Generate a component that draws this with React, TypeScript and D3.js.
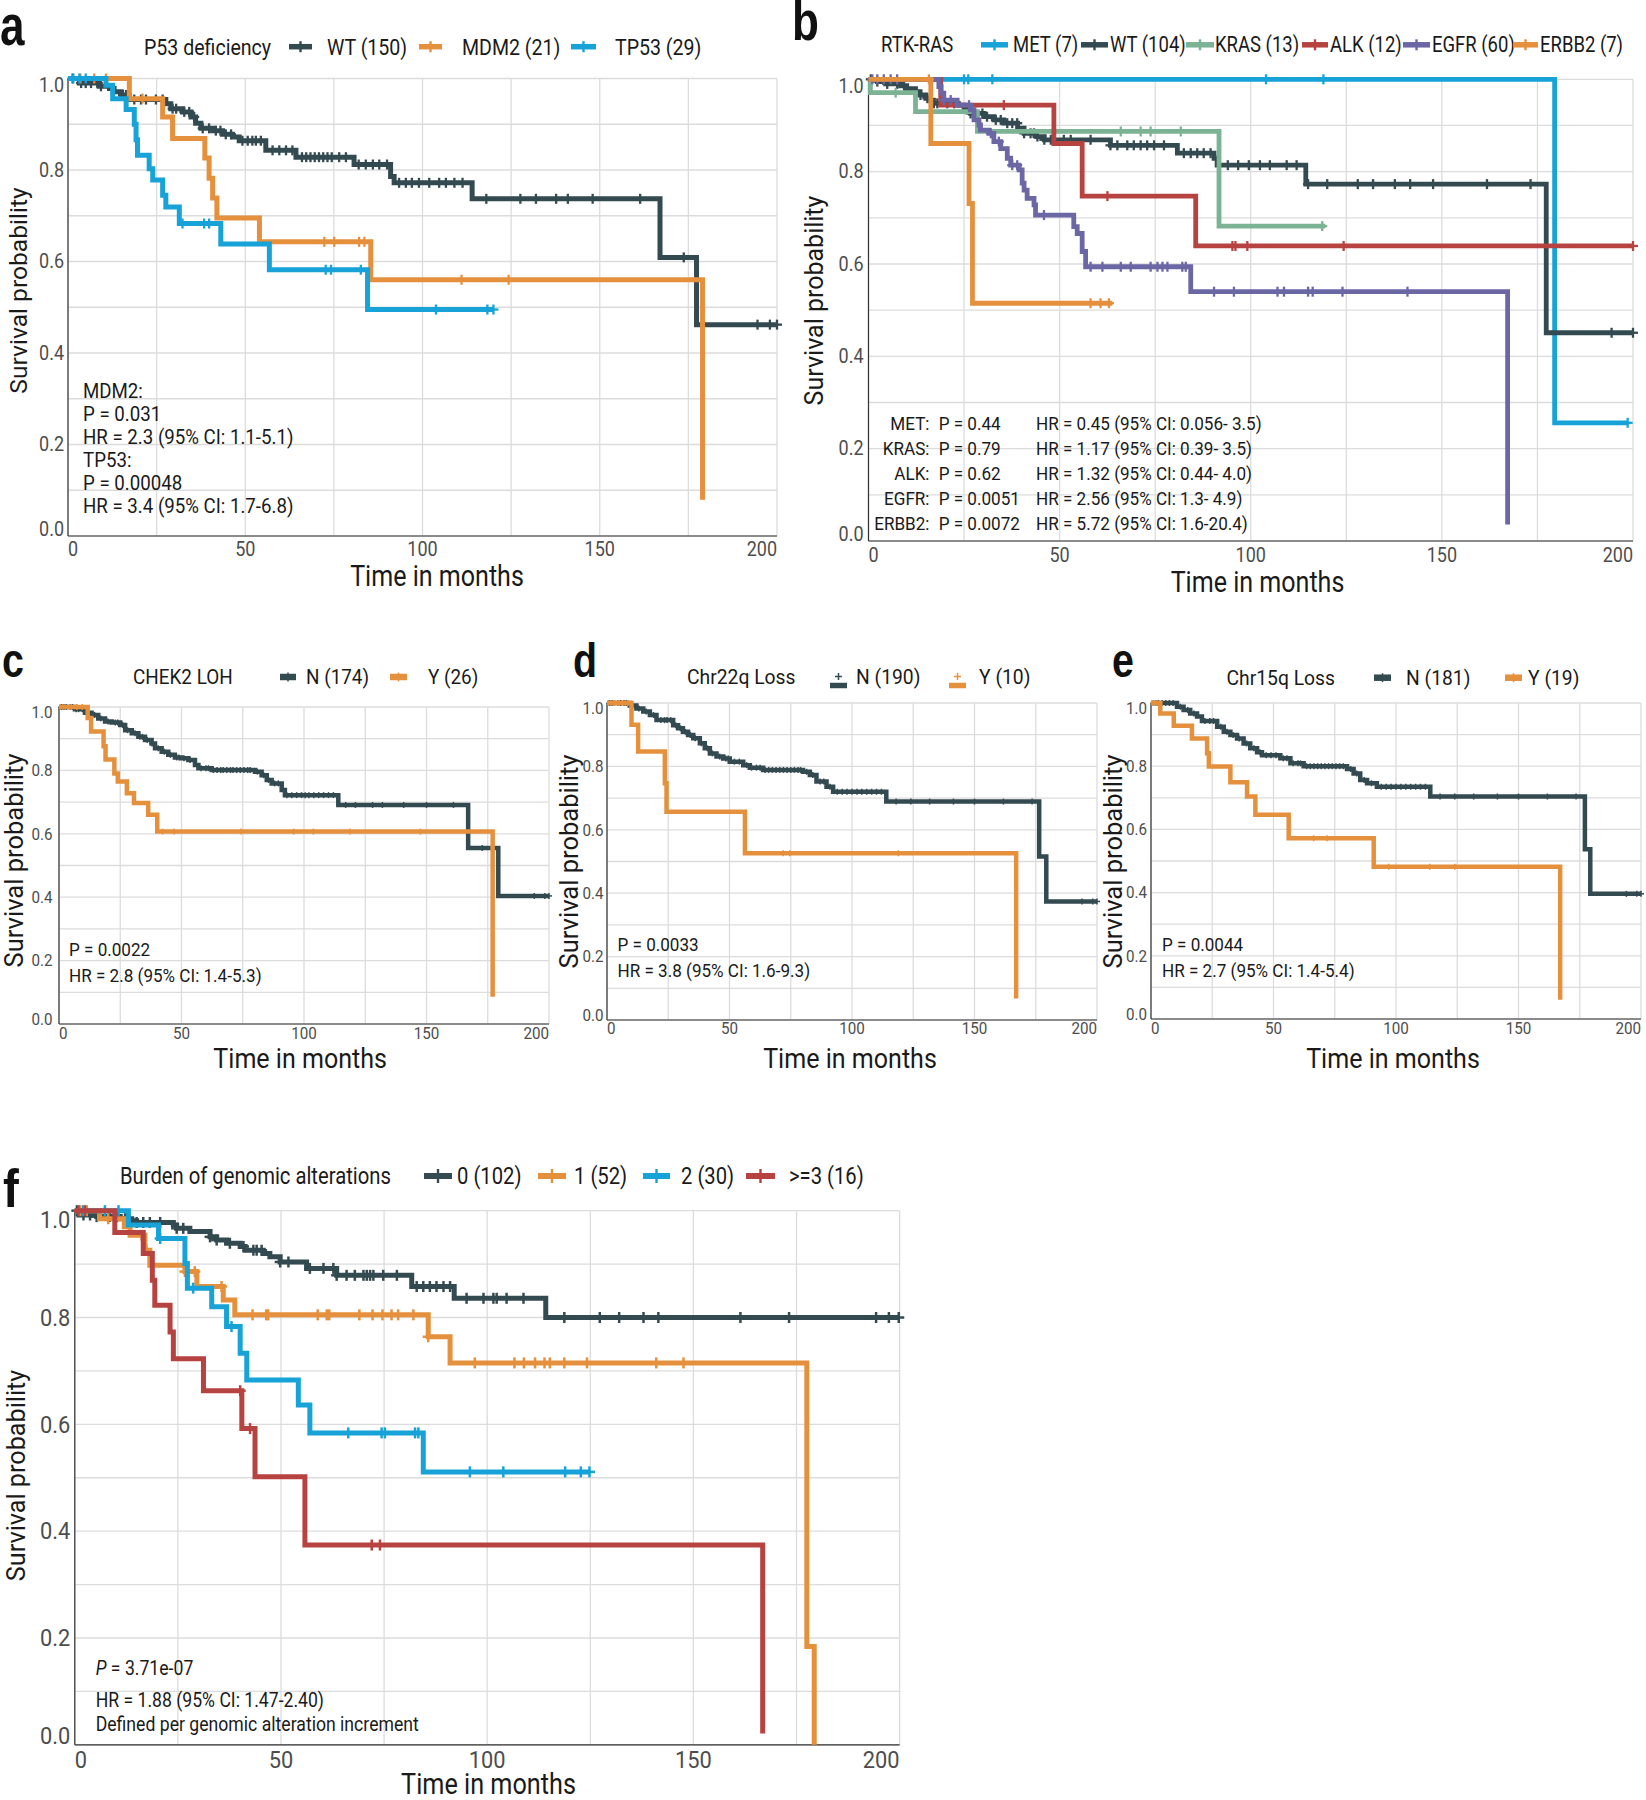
import React from "react";
import * as d3 from "d3";

type Step = [number, number];

// ---------- colours ----------
const DARK = "#344a51";
const ORANGE = "#e5903d";
const BLUE = "#17a2d8";
const GREEN = "#7bb394";
const RED = "#b74341";
const PURPLE = "#6b67a5";

const X_TICKS = [0, 50, 100, 150, 200];
const Y_TICKS = [0, 0.2, 0.4, 0.6, 0.8, 1.0];
const X_GRID = [0, 25, 50, 75, 100, 125, 150, 175, 200];
const Y_GRID = [0, 0.1, 0.2, 0.3, 0.4, 0.5, 0.6, 0.7, 0.8, 0.9, 1.0];

// ---------- panel a : P53 deficiency ----------
const A_WT_STEPS: Step[] = [[0, 1], [3.2, 0.99], [8.8, 0.983], [11.7, 0.978], [13, 0.971], [15, 0.964], [17.3, 0.954], [27.6, 0.945], [29, 0.934], [32.3, 0.927], [34.7, 0.916], [36, 0.902], [37.5, 0.891], [40.8, 0.886], [43.6, 0.878], [46.4, 0.872], [48.3, 0.864], [55.8, 0.843], [64.3, 0.828], [80.7, 0.812], [91, 0.786], [92, 0.772], [114, 0.737], [167, 0.609], [177.3, 0.462]];
const A_WT_END = 200;
const A_WT_CENSOR = [1.3, 3.7, 5, 6.5, 8.4, 9.3, 15.5, 16.4, 18.7, 20.6, 22, 24.8, 26.7, 29.5, 30.5, 32.8, 34.2, 35.6, 38, 39.8, 41.7, 43, 44.5, 46, 49.2, 50.7, 52, 53, 54.4, 57.7, 59.6, 61.5, 63.3, 66, 67.2, 68.4, 69.6, 70.8, 72, 73.2, 74.4, 76.5, 78.4, 82, 84, 86, 87.8, 90, 93.4, 95.3, 97, 99, 101.9, 104.7, 106.6, 109, 111.3, 118, 127.6, 132, 137.7, 141, 148, 161.4, 173.7, 194.5, 198, 200];
const A_MDM2_STEPS: Step[] = [[0, 1], [17.3, 0.956], [26.7, 0.916], [29.5, 0.869], [38.6, 0.826], [39.8, 0.782], [40.8, 0.739], [42, 0.695], [54, 0.643], [85.4, 0.56], [179, 0.079]];
const A_MDM2_END = 179;
const A_MDM2_CENSOR = [3.5, 7.4, 10.7, 21, 72.3, 75.1, 82.1, 83.6, 111, 124.3];
const A_TP53_STEPS: Step[] = [[0, 1], [10.7, 0.985], [12.6, 0.956], [16.4, 0.932], [18.7, 0.9], [19.2, 0.866], [19.6, 0.832], [22.9, 0.803], [23.9, 0.778], [26.7, 0.745], [27.6, 0.719], [31.4, 0.683], [43.1, 0.638], [56.8, 0.582], [84.5, 0.495]];
const A_TP53_END = 120;
const A_TP53_CENSOR = [1.5, 3.2, 5, 32.3, 38.4, 39.8, 72.7, 74.2, 82.6, 103.8, 118.3, 120];
const A_LEGEND = ["WT (150)", "MDM2 (21)", "TP53 (29)"];
const A_NOTES = ["MDM2:", "P = 0.031", "HR = 2.3 (95% CI: 1.1-5.1)", "TP53:", "P = 0.00048", "HR = 3.4 (95% CI: 1.7-6.8)"];

// ---------- panel b : RTK-RAS ----------
const B_MET_STEPS: Step[] = [[0, 1], [179.5, 0.256]];
const B_MET_END = 198.6;
const B_MET_CENSOR = [25, 26.1, 32.4, 104, 119, 198.6];
const B_WT_STEPS: Step[] = [[0, 1], [2.3, 0.995], [4.5, 0.99], [8.4, 0.986], [10, 0.98], [12.3, 0.973], [13.5, 0.966], [15, 0.959], [16, 0.955], [17, 0.948], [23.5, 0.944], [25, 0.935], [26.7, 0.926], [30.2, 0.919], [32.8, 0.912], [35.4, 0.905], [39, 0.894], [40.7, 0.883], [44, 0.876], [46, 0.869], [63.3, 0.857], [80.8, 0.84], [90.4, 0.829], [91.2, 0.814], [114.4, 0.773], [177.3, 0.451]];
const B_WT_END = 200;
const B_WT_CENSOR = [0.6, 2.3, 4.9, 7.5, 9.3, 13.6, 15.4, 17.1, 18, 20.6, 22.4, 26.7, 27.6, 29.8, 31, 33.3, 34.6, 36.3, 37.6, 38.9, 40.7, 42.4, 43.3, 44.2, 46, 47.7, 51.1, 52.9, 58.1, 63.3, 65.1, 67.7, 69.4, 71.2, 72.9, 74.7, 77.3, 82.5, 84.3, 86, 87.7, 89.5, 94, 96.7, 99.5, 102.4, 105, 109.4, 112, 115, 120, 128, 132, 137.7, 141.7, 147.7, 161.8, 173.2, 194.4, 200];
const B_KRAS_STEPS: Step[] = [[0, 1], [0.5, 0.971], [12.3, 0.93], [28.5, 0.887], [91.7, 0.682]];
const B_KRAS_END = 119.5;
const B_KRAS_CENSOR = [7.1, 66, 71.2, 73.8, 81.7, 118.7];
const B_ALK_STEPS: Step[] = [[0, 1], [18.9, 0.944], [48.5, 0.861], [55.9, 0.747], [85.6, 0.639]];
const B_ALK_END = 200;
const B_ALK_CENSOR = [35.4, 62.5, 95.2, 96, 99.1, 124.3, 200];
const B_EGFR_STEPS: Step[] = [[0, 1], [18.4, 0.984], [19, 0.97], [19.7, 0.955], [23.2, 0.944], [26.7, 0.934], [27.6, 0.912], [28.9, 0.901], [29.3, 0.89], [31.5, 0.883], [32.8, 0.865], [34.6, 0.85], [36.3, 0.829], [37.2, 0.814], [39.4, 0.804], [40.2, 0.775], [40.7, 0.76], [41.5, 0.742], [43.3, 0.728], [43.7, 0.706], [53.7, 0.681], [54.6, 0.666], [55.9, 0.627], [56.8, 0.594], [84.3, 0.54], [167.2, 0.036]];
const B_EGFR_END = 167.2;
const B_EGFR_CENSOR = [1, 2.3, 4, 5.8, 7.5, 19.7, 21.5, 26.3, 32, 34.1, 37.6, 38.9, 45.9, 58.1, 61.2, 66, 68.6, 73.8, 75.6, 76.9, 78.2, 82.1, 83, 90.4, 95.6, 107, 108.7, 115, 116.2, 124, 141];
const B_ERBB2_STEPS: Step[] = [[0, 1], [16.3, 0.861], [26.3, 0.731], [27.2, 0.515]];
const B_ERBB2_END = 63.8;
const B_ERBB2_CENSOR = [15.8, 58.1, 60.7, 62.9];
const B_LEGEND = ["MET (7)", "WT (104)", "KRAS (13)", "ALK (12)", "EGFR (60)", "ERBB2 (7)"];
const B_NOTE_GROUP = ["MET:", "KRAS:", "ALK:", "EGFR:", "ERBB2:"];
const B_NOTE_P = ["P = 0.44", "P = 0.79", "P = 0.62", "P = 0.0051", "P = 0.0072"];
const B_NOTE_HR = ["HR = 0.45 (95% CI: 0.056- 3.5)", "HR = 1.17 (95% CI: 0.39- 3.5)", "HR = 1.32 (95% CI: 0.44- 4.0)", "HR = 2.56 (95% CI: 1.3- 4.9)", "HR = 5.72 (95% CI: 1.6-20.4)"];

// ---------- panel c : CHEK2 LOH ----------
const C_N_STEPS: Step[] = [[0, 1], [6.5, 0.993], [10.6, 0.982], [13.3, 0.975], [16, 0.964], [18.8, 0.954], [21.5, 0.951], [25, 0.943], [27, 0.927], [29.7, 0.917], [32.4, 0.906], [35.1, 0.896], [37.8, 0.885], [39.2, 0.87], [41.9, 0.859], [44.6, 0.849], [47.3, 0.841], [50, 0.838], [52.8, 0.833], [55.5, 0.817], [56.9, 0.807], [62.3, 0.801], [80, 0.796], [82.7, 0.785], [84.8, 0.77], [86.8, 0.759], [90.9, 0.738], [92.2, 0.722], [114, 0.691], [167, 0.555], [179.3, 0.404]];
const C_N_END = 200;
const C_N_CENSOR = [1, 2, 3, 4.5, 5.5, 7, 8, 9.5, 12, 14.5, 17, 20, 23, 24, 26, 28, 31, 33, 34, 36, 38, 40.5, 43, 45.5, 48, 49, 51, 53.5, 58, 60, 61, 63, 64.5, 66, 67, 68.5, 70, 71, 72.5, 74, 75.5, 77, 78, 81, 83.5, 85.5, 88, 89.5, 93, 95, 97, 99, 100.5, 102, 104, 106, 108, 110, 112, 117, 121, 128, 132, 140.7, 150, 161, 172.7, 194, 198.3, 200];
const C_Y_STEPS: Step[] = [[0, 1], [11.7, 0.965], [13.1, 0.923], [18.2, 0.876], [19, 0.834], [22.6, 0.79], [24, 0.765], [27.7, 0.728], [30.6, 0.697], [36.4, 0.66], [40.1, 0.607], [177, 0.086]];
const C_Y_END = 177;
const C_Y_CENSOR = [1.5, 4.4, 7.3, 9.5, 42.3, 47, 74.3, 95.8, 103.8, 118.8, 147.5];
const C_LEGEND = ["N (174)", "Y (26)"];
const C_NOTES = ["P = 0.0022", "HR = 2.8 (95% CI: 1.4-5.3)"];

// ---------- panel d : Chr22q Loss ----------
const D_N_STEPS: Step[] = [[0, 1], [9.3, 0.992], [12, 0.983], [14.8, 0.973], [17.5, 0.962], [20.2, 0.946], [27, 0.93], [29, 0.92], [31, 0.909], [33.1, 0.899], [35.2, 0.889], [37.9, 0.873], [39.9, 0.857], [42, 0.841], [44.7, 0.831], [47.4, 0.825], [50.1, 0.815], [55.6, 0.804], [58.3, 0.796], [63.7, 0.789], [80, 0.783], [82.8, 0.773], [85.5, 0.752], [89.6, 0.736], [92.3, 0.72], [114, 0.689], [176.4, 0.516], [179.3, 0.374]];
const D_N_END = 200;
const D_N_CENSOR = [1, 2, 3, 4.5, 5.5, 7, 8, 10, 13, 16, 19, 22, 23.5, 24.5, 26, 28, 30, 32, 34, 36, 38.5, 41, 43, 46, 48.5, 49.5, 52, 54, 57, 59, 61, 62.5, 64.5, 66, 67.5, 69, 70.5, 72, 73.5, 75, 76.5, 78, 79, 81.5, 84, 87, 88.5, 91, 94, 96, 98, 100, 102, 104, 106, 108, 110, 112, 118, 124, 131.7, 141.4, 150, 161.8, 173.5, 193.9, 198.3, 200];
const D_Y_STEPS: Step[] = [[0, 1], [10, 0.931], [12.7, 0.847], [23.6, 0.747], [24.3, 0.657], [56.3, 0.526], [167, 0.068]];
const D_Y_END = 167;
const D_Y_CENSOR = [1.5, 3, 4.5, 6, 7.5, 8.5, 71.9, 74.6, 118.9];
const D_LEGEND = ["N (190)", "Y (10)"];
const D_NOTES = ["P = 0.0033", "HR = 3.8 (95% CI: 1.6-9.3)"];

// ---------- panel e : Chr15q Loss ----------
const E_N_STEPS: Step[] = [[0, 1], [10.6, 0.988], [13.3, 0.978], [16, 0.967], [18.8, 0.957], [20.8, 0.943], [27, 0.925], [29.7, 0.909], [32.4, 0.899], [35.1, 0.888], [37.8, 0.872], [40.5, 0.857], [43.3, 0.844], [45.3, 0.835], [52.8, 0.825], [56.9, 0.809], [62.3, 0.8], [80, 0.791], [82.7, 0.777], [85.4, 0.756], [88.2, 0.746], [92.2, 0.735], [114, 0.704], [177.1, 0.537], [179.3, 0.396]];
const E_N_END = 200;
const E_N_CENSOR = [1, 2, 3, 4.5, 6, 7.5, 9, 12, 15, 17.5, 22, 24, 25.5, 28.5, 31, 33.5, 36, 39, 42, 44.5, 47, 49, 51, 54, 55.5, 58, 60, 61, 63.5, 65, 66.5, 68, 69.5, 71, 72.5, 74, 75.5, 77, 78.5, 81.5, 84, 87, 90, 94, 96, 98, 100, 102, 104, 106, 108, 110, 112, 118, 124, 131.7, 141.4, 150, 161.8, 173.5, 194, 198.3, 200];
const E_Y_STEPS: Step[] = [[0, 1], [3.8, 0.967], [9.3, 0.928], [16.7, 0.888], [22.9, 0.841], [23.6, 0.799], [32.4, 0.749], [39.2, 0.704], [42.6, 0.646], [56.2, 0.572], [90.9, 0.482], [167, 0.061]];
const E_Y_END = 167;
const E_Y_CENSOR = [1, 2, 66.4, 71.8, 97, 113.8, 124];
const E_LEGEND = ["N (181)", "Y (19)"];
const E_NOTES = ["P = 0.0044", "HR = 2.7 (95% CI: 1.4-5.4)"];

// ---------- panel f : Burden of genomic alterations ----------
const F_0_STEPS: Step[] = [[0, 1], [1, 0.992], [5.3, 0.989], [11, 0.985], [13.8, 0.981], [15, 0.978], [23.9, 0.973], [24.7, 0.967], [27.9, 0.961], [32.8, 0.951], [34.4, 0.945], [36.8, 0.939], [40.1, 0.933], [41.3, 0.926], [45.7, 0.92], [47.3, 0.914], [49.8, 0.904], [56.2, 0.892], [63.5, 0.879], [81.7, 0.858], [92, 0.836], [114.2, 0.8]];
const F_0_END = 200;
const F_0_CENSOR = [0.5, 2.1, 3.7, 5.3, 8.5, 10.2, 12.2, 15, 16.6, 18.2, 20.7, 24.7, 26.3, 32.8, 34.4, 37.6, 40.9, 43.3, 44.1, 45.3, 49.8, 51.8, 57, 60.3, 62.7, 63.5, 65.9, 67.9, 70, 70.8, 71.6, 72.4, 74.8, 78.1, 82.9, 84.5, 86.1, 87.7, 89.4, 91, 95, 99.1, 101.5, 102.3, 104.7, 108.8, 118.7, 127.3, 132, 137.9, 141.5, 161.4, 173.2, 194.3, 197.4, 199.8];
const F_1_STEPS: Step[] = [[0, 1], [6, 0.985], [12, 0.97], [13.4, 0.954], [17, 0.926], [18.2, 0.898], [26.7, 0.886], [29.6, 0.858], [36, 0.833], [38.8, 0.805], [85.7, 0.764], [91, 0.715], [177.5, 0.184], [179.3, 0.0]];
const F_1_END = 179.3;
const F_1_CENSOR = [1.3, 2.9, 8.1, 16.2, 17.4, 26.7, 29.1, 35.6, 43.1, 46.4, 46.9, 58.9, 61.1, 61.7, 69, 72.2, 74.6, 76.8, 78.4, 82.1, 85.7, 97, 106.6, 108.9, 111.6, 113.9, 115.2, 118.7, 124.2, 141, 147.6];
const F_2_STEPS: Step[] = [[0, 1], [13, 0.973], [20.3, 0.948], [26.7, 0.901], [27.3, 0.855], [33.2, 0.82], [36.8, 0.783], [40.1, 0.733], [41.7, 0.683], [54.2, 0.636], [57, 0.584], [84.5, 0.511]];
const F_2_END = 124.8;
const F_2_CENSOR = [2, 7.3, 10.6, 20.7, 28.7, 38, 66.3, 74.4, 75.2, 82.5, 83.3, 95.8, 103.9, 118.9, 122.7, 124.8];
const F_3_STEPS: Step[] = [[0, 1], [9.7, 0.959], [16.6, 0.92], [18.8, 0.87], [19.4, 0.823], [23.1, 0.773], [23.9, 0.723], [31.2, 0.663], [40.5, 0.592], [43.7, 0.502], [55.8, 0.374], [166.8, 0.021]];
const F_3_END = 166.8;
const F_3_CENSOR = [0.9, 2.5, 40.1, 42.5, 72, 74];
const F_LEGEND = ["0 (102)", "1 (52)", "2 (30)", ">=3 (16)"];
const F_NOTES = ["P", " = 3.71e-07", "HR = 1.88 (95% CI: 1.47-2.40)", "Defined per genomic alteration increment"];

// ---------------------------------------------------------------
const FONT = "Roboto, 'Noto Sans', sans-serif";
const TICK_COLOR = "#4d4d4d";
const TEXT_COLOR = "#1a1a1a";
const GRID_COLOR = "#dcdcdc";

interface TxtProps {
  x: number; y: number; size: number; sx?: number; anchor?: "start" | "middle" | "end";
  fill?: string; weight?: number | string; family?: string; rotate?: number; baseline?: string;
  children?: React.ReactNode;
}
function Txt({ x, y, size, sx = 1, anchor = "start", fill = TEXT_COLOR, weight = 400, family = FONT, rotate = 0, baseline = "central", children }: TxtProps) {
  let tr = `translate(${x},${y})`;
  if (rotate) tr += ` rotate(${rotate})`;
  if (sx !== 1) tr += ` scale(${sx},1)`;
  return (
    <text transform={tr} fontSize={size} textAnchor={anchor} dominantBaseline={baseline}
      fill={fill} fontWeight={weight} fontFamily={family}>
      {children}
    </text>
  );
}

interface SeriesCfg { steps: Step[]; end: number; censor: number[]; color: string }
interface LegendItem { label: string; color: string; k0: number; k1: number; tx: number }
interface PanelCfg {
  x0: number; x1: number; y0: number; y1: number;
  series: SeriesCfg[];
  lw: number; cs: number; cw: number;
  tick: { size: number; sx: number; gap: number; dy: number; shift: number };
  ytitle: { x: number; y: number; size: number };
  xtitle: { x: number; y: number; size: number; sx: number };
  letter: { ch: string; x: number; y: number; size: number; sx: number };
  legend: {
    title: string; tx: number; y: number; size: number; sx: number; items: LegendItem[];
    key: "cross" | "bar" | "dplus"; keyW: number; keyTick: number;
  };
}

function survAt(steps: Step[], t: number): number {
  let s = steps[0][1];
  for (const [tt, ss] of steps) {
    if (tt <= t) s = ss; else break;
  }
  return s;
}

function KMPanel({ cfg }: { cfg: PanelCfg }) {
  const xs = d3.scaleLinear().domain([0, 200]).range([cfg.x0, cfg.x1]);
  const ys = d3.scaleLinear().domain([0, 1]).range([cfg.y1, cfg.y0]);
  const line = d3.line<Step>().x((d) => xs(d[0])).y((d) => ys(d[1])).curve(d3.curveStepAfter);
  const h = cfg.cs / 2;
  const lg = cfg.legend;
  return (
    <g>
      {X_GRID.map((v) => (
        <line key={"gx" + v} x1={xs(v)} x2={xs(v)} y1={cfg.y0} y2={cfg.y1} stroke={GRID_COLOR} strokeWidth={1.3} />
      ))}
      {Y_GRID.map((v) => (
        <line key={"gy" + v} x1={cfg.x0} x2={cfg.x1} y1={ys(v)} y2={ys(v)} stroke={GRID_COLOR} strokeWidth={1.3} />
      ))}
      <line x1={cfg.x0} x2={cfg.x0} y1={cfg.y0} y2={cfg.y1} stroke="#333" strokeWidth={1.2} />
      <line x1={cfg.x0} x2={cfg.x1} y1={cfg.y1} y2={cfg.y1} stroke="#333" strokeWidth={1.2} />
      {cfg.series.map((s, i) => {
        const last = s.steps[s.steps.length - 1][1];
        const pts: Step[] = [...s.steps, [s.end, last]];
        return (
          <g key={"s" + i}>
            <path d={line(pts) || ""} fill="none" stroke={s.color} strokeWidth={cfg.lw} strokeLinejoin="miter" />
            {s.censor.map((c, j) => {
              const cx = xs(c);
              const cy = ys(survAt(s.steps, c));
              return (
                <g key={j} stroke={s.color} strokeWidth={cfg.cw}>
                  <line x1={cx} x2={cx} y1={cy - h} y2={cy + h} />
                  <line x1={cx - h} x2={cx + h} y1={cy} y2={cy} />
                </g>
              );
            })}
          </g>
        );
      })}
      {Y_TICKS.map((v) => {
        const y = ys(v) + (v === 1 ? cfg.tick.shift : v === 0 ? -cfg.tick.shift : 0);
        return (
          <Txt key={"yt" + v} x={cfg.x0 - cfg.tick.gap} y={y} size={cfg.tick.size} sx={cfg.tick.sx} anchor="end" fill={TICK_COLOR}>
            {v.toFixed(1)}
          </Txt>
        );
      })}
      {X_TICKS.map((v) => (
        <Txt key={"xt" + v} x={xs(v)} y={cfg.y1 + cfg.tick.dy} size={cfg.tick.size} sx={cfg.tick.sx}
          anchor={v === 0 ? "start" : v === 200 ? "end" : "middle"} fill={TICK_COLOR}>
          {String(v)}
        </Txt>
      ))}
      <Txt x={cfg.ytitle.x} y={cfg.ytitle.y} size={cfg.ytitle.size} anchor="middle" rotate={-90}>
        Survival probability
      </Txt>
      <Txt x={cfg.xtitle.x} y={cfg.xtitle.y} size={cfg.xtitle.size} sx={cfg.xtitle.sx} anchor="middle">
        Time in months
      </Txt>
      <Txt x={cfg.letter.x} y={cfg.letter.y} size={cfg.letter.size} sx={cfg.letter.sx} weight={700}
        family="'Liberation Sans', Arial, sans-serif" baseline="alphabetic" fill="#111">
        {cfg.letter.ch}
      </Txt>
      <Txt x={lg.tx} y={lg.y} size={lg.size} sx={lg.sx}>{lg.title}</Txt>
      {lg.items.map((it, i) => {
        const mid = (it.k0 + it.k1) / 2;
        let key: React.ReactNode;
        if (lg.key === "dplus") {
          key = (
            <g stroke={it.color}>
              <line x1={it.k0} x2={it.k1} y1={lg.y + 8.5} y2={lg.y + 8.5} strokeWidth={lg.keyW} />
              <line x1={mid} x2={mid} y1={lg.y - 4} y2={lg.y + 3} strokeWidth={1.5} />
              <line x1={mid - 3.5} x2={mid + 3.5} y1={lg.y - 0.5} y2={lg.y - 0.5} strokeWidth={1.5} />
            </g>
          );
        } else {
          key = (
            <g stroke={it.color}>
              <line x1={it.k0} x2={it.k1} y1={lg.y} y2={lg.y} strokeWidth={lg.keyW} />
              <line x1={mid} x2={mid} y1={lg.y - lg.keyTick / 2} y2={lg.y + lg.keyTick / 2}
                strokeWidth={lg.key === "bar" ? 1.5 : 2.4} />
            </g>
          );
        }
        return (
          <g key={"lg" + i}>
            {key}
            <Txt x={it.tx} y={lg.y} size={lg.size} sx={lg.sx}>{it.label}</Txt>
          </g>
        );
      })}
    </g>
  );
}

// ---------- panel configurations ----------
const PANEL_A: PanelCfg = {
  x0: 68, x1: 777, y0: 78.5, y1: 536,
  series: [
    { steps: A_WT_STEPS, end: A_WT_END, censor: A_WT_CENSOR, color: DARK },
    { steps: A_MDM2_STEPS, end: A_MDM2_END, censor: A_MDM2_CENSOR, color: ORANGE },
    { steps: A_TP53_STEPS, end: A_TP53_END, censor: A_TP53_CENSOR, color: BLUE },
  ],
  lw: 5, cs: 10, cw: 2.3,
  tick: { size: 20, sx: 0.9, gap: 4, dy: 13.5, shift: 6.5 },
  ytitle: { x: 18, y: 290.5, size: 24.6 },
  xtitle: { x: 437, y: 576, size: 29.5, sx: 0.85 },
  letter: { ch: "a", x: 0, y: 45, size: 58, sx: 0.76 },
  legend: {
    title: "P53 deficiency", tx: 144, y: 46.7, size: 22.5, sx: 0.87, key: "cross", keyW: 5.5, keyTick: 11,
    items: [
      { label: A_LEGEND[0], color: DARK, k0: 289, k1: 312, tx: 327 },
      { label: A_LEGEND[1], color: ORANGE, k0: 419, k1: 442, tx: 462 },
      { label: A_LEGEND[2], color: BLUE, k0: 571, k1: 596, tx: 615 },
    ],
  },
};

const PANEL_B: PanelCfg = {
  x0: 868.5, x1: 1633, y0: 79.3, y1: 541,
  series: [
    { steps: B_MET_STEPS, end: B_MET_END, censor: B_MET_CENSOR, color: BLUE },
    { steps: B_WT_STEPS, end: B_WT_END, censor: B_WT_CENSOR, color: DARK },
    { steps: B_KRAS_STEPS, end: B_KRAS_END, censor: B_KRAS_CENSOR, color: GREEN },
    { steps: B_ALK_STEPS, end: B_ALK_END, censor: B_ALK_CENSOR, color: RED },
    { steps: B_EGFR_STEPS, end: B_EGFR_END, censor: B_EGFR_CENSOR, color: PURPLE },
    { steps: B_ERBB2_STEPS, end: B_ERBB2_END, censor: B_ERBB2_CENSOR, color: ORANGE },
  ],
  lw: 4.8, cs: 10, cw: 2.3,
  tick: { size: 20, sx: 0.9, gap: 5, dy: 14, shift: 6.5 },
  ytitle: { x: 814.5, y: 300.5, size: 25 },
  xtitle: { x: 1257.5, y: 582, size: 29.5, sx: 0.85 },
  letter: { ch: "b", x: 792, y: 40, size: 55, sx: 0.8 },
  legend: {
    title: "RTK-RAS", tx: 881, y: 44.8, size: 21.5, sx: 0.86, key: "cross", keyW: 5.5, keyTick: 11,
    items: [
      { label: B_LEGEND[0], color: BLUE, k0: 981, k1: 1008, tx: 1013 },
      { label: B_LEGEND[1], color: DARK, k0: 1081, k1: 1108, tx: 1110 },
      { label: B_LEGEND[2], color: GREEN, k0: 1186, k1: 1214, tx: 1215 },
      { label: B_LEGEND[3], color: RED, k0: 1302, k1: 1328, tx: 1330 },
      { label: B_LEGEND[4], color: PURPLE, k0: 1403, k1: 1430, tx: 1432 },
      { label: B_LEGEND[5], color: ORANGE, k0: 1513, k1: 1538, tx: 1540 },
    ],
  },
};

const SMALL_TICK = { size: 16.5, sx: 0.92, gap: 6, dy: 9, shift: 5 };

const PANEL_C: PanelCfg = {
  x0: 59, x1: 549, y0: 707, y1: 1024,
  series: [
    { steps: C_N_STEPS, end: C_N_END, censor: C_N_CENSOR, color: DARK },
    { steps: C_Y_STEPS, end: C_Y_END, censor: C_Y_CENSOR, color: ORANGE },
  ],
  lw: 4.5, cs: 6, cw: 1.5,
  tick: { ...SMALL_TICK, gap: 6.5, dy: 9.3 },
  ytitle: { x: 14, y: 860.5, size: 25.5 },
  xtitle: { x: 300.2, y: 1058.5, size: 26.8, sx: 0.935 },
  letter: { ch: "c", x: 2, y: 677, size: 48, sx: 0.82 },
  legend: {
    title: "CHEK2 LOH", tx: 133, y: 677, size: 21, sx: 0.9, key: "bar", keyW: 6.5, keyTick: 9,
    items: [
      { label: C_LEGEND[0], color: DARK, k0: 280, k1: 296, tx: 306 },
      { label: C_LEGEND[1], color: ORANGE, k0: 390, k1: 407, tx: 428 },
    ],
  },
};

const PANEL_D: PanelCfg = {
  x0: 607, x1: 1097, y0: 703, y1: 1020,
  series: [
    { steps: D_N_STEPS, end: D_N_END, censor: D_N_CENSOR, color: DARK },
    { steps: D_Y_STEPS, end: D_Y_END, censor: D_Y_CENSOR, color: ORANGE },
  ],
  lw: 4.5, cs: 6, cw: 1.5,
  tick: { ...SMALL_TICK, gap: 3.5, dy: 8.3 },
  ytitle: { x: 568.5, y: 861.5, size: 25.5 },
  xtitle: { x: 850, y: 1059, size: 26.8, sx: 0.935 },
  letter: { ch: "d", x: 573, y: 677, size: 48, sx: 0.82 },
  legend: {
    title: "Chr22q Loss", tx: 687, y: 677, size: 21, sx: 0.92, key: "dplus", keyW: 5.5, keyTick: 7,
    items: [
      { label: D_LEGEND[0], color: DARK, k0: 830, k1: 847, tx: 856 },
      { label: D_LEGEND[1], color: ORANGE, k0: 949, k1: 966, tx: 979 },
    ],
  },
};

const PANEL_E: PanelCfg = {
  x0: 1151, x1: 1641, y0: 703, y1: 1019,
  series: [
    { steps: E_N_STEPS, end: E_N_END, censor: E_N_CENSOR, color: DARK },
    { steps: E_Y_STEPS, end: E_Y_END, censor: E_Y_CENSOR, color: ORANGE },
  ],
  lw: 4.5, cs: 6, cw: 1.5,
  tick: { ...SMALL_TICK, gap: 4, dy: 9 },
  ytitle: { x: 1113, y: 861.5, size: 25.5 },
  xtitle: { x: 1393, y: 1059, size: 26.8, sx: 0.935 },
  letter: { ch: "e", x: 1112, y: 677, size: 48, sx: 0.82 },
  legend: {
    title: "Chr15q Loss", tx: 1226.5, y: 677.7, size: 21, sx: 0.92, key: "bar", keyW: 6.5, keyTick: 9,
    items: [
      { label: E_LEGEND[0], color: DARK, k0: 1374, k1: 1391, tx: 1406 },
      { label: E_LEGEND[1], color: ORANGE, k0: 1505, k1: 1522, tx: 1528 },
    ],
  },
};

const PANEL_F: PanelCfg = {
  x0: 74.8, x1: 899.6, y0: 1210.7, y1: 1744.8,
  series: [
    { steps: F_0_STEPS, end: F_0_END, censor: F_0_CENSOR, color: DARK },
    { steps: F_1_STEPS, end: F_1_END, censor: F_1_CENSOR, color: ORANGE },
    { steps: F_2_STEPS, end: F_2_END, censor: F_2_CENSOR, color: BLUE },
    { steps: F_3_STEPS, end: F_3_END, censor: F_3_CENSOR, color: RED },
  ],
  lw: 5, cs: 11, cw: 2.5,
  tick: { size: 23, sx: 0.95, gap: 4.4, dy: 14.5, shift: 9 },
  ytitle: { x: 16, y: 1475.5, size: 25.2 },
  xtitle: { x: 488.5, y: 1784, size: 29, sx: 0.87 },
  letter: { ch: "f", x: 3, y: 1207, size: 54, sx: 0.88 },
  legend: {
    title: "Burden of genomic alterations", tx: 120, y: 1176, size: 23, sx: 0.88, key: "cross", keyW: 6, keyTick: 14,
    items: [
      { label: F_LEGEND[0], color: DARK, k0: 424, k1: 452, tx: 457 },
      { label: F_LEGEND[1], color: ORANGE, k0: 538, k1: 566, tx: 574 },
      { label: F_LEGEND[2], color: BLUE, k0: 643, k1: 670, tx: 681 },
      { label: F_LEGEND[3], color: RED, k0: 746, k1: 775, tx: 789 },
    ],
  },
};

export default function App() {
  return (
    <svg width={1646} height={1800} viewBox="0 0 1646 1800"
      style={{ position: "absolute", left: 0, top: 0, background: "#fff" }}
      xmlns="http://www.w3.org/2000/svg">
      <rect x={0} y={0} width={1646} height={1800} fill="#fff" />
      <KMPanel cfg={PANEL_A} />
      <KMPanel cfg={PANEL_B} />
      <KMPanel cfg={PANEL_C} />
      <KMPanel cfg={PANEL_D} />
      <KMPanel cfg={PANEL_E} />
      <KMPanel cfg={PANEL_F} />

      {A_NOTES.map((t, i) => (
        <Txt key={"an" + i} x={83} y={391 + i * 23} size={21} sx={0.89}>{t}</Txt>
      ))}
      {B_NOTE_GROUP.map((g, i) => (
        <g key={"bn" + i}>
          <Txt x={929.5} y={422.7 + i * 25} size={19} sx={0.9} anchor="end">{g}</Txt>
          <Txt x={938.7} y={422.7 + i * 25} size={19} sx={0.9}>{B_NOTE_P[i]}</Txt>
          <Txt x={1036} y={422.7 + i * 25} size={19} sx={0.9}>{B_NOTE_HR[i]}</Txt>
        </g>
      ))}
      {C_NOTES.map((t, i) => (
        <Txt key={"cn" + i} x={69} y={949.5 + i * 26} size={18} sx={0.95}>{t}</Txt>
      ))}
      {D_NOTES.map((t, i) => (
        <Txt key={"dn" + i} x={617.5} y={945 + i * 26} size={18} sx={0.95}>{t}</Txt>
      ))}
      {E_NOTES.map((t, i) => (
        <Txt key={"en" + i} x={1162} y={944.5 + i * 26} size={18} sx={0.95}>{t}</Txt>
      ))}
      <Txt x={95.7} y={1667} size={20.5} sx={0.86}>
        <tspan fontStyle="italic">{F_NOTES[0]}</tspan>
        <tspan>{F_NOTES[1]}</tspan>
      </Txt>
      <Txt x={95.7} y={1700} size={20.5} sx={0.86}>{F_NOTES[2]}</Txt>
      <Txt x={95.7} y={1724} size={20.5} sx={0.86}>{F_NOTES[3]}</Txt>
    </svg>
  );
}
